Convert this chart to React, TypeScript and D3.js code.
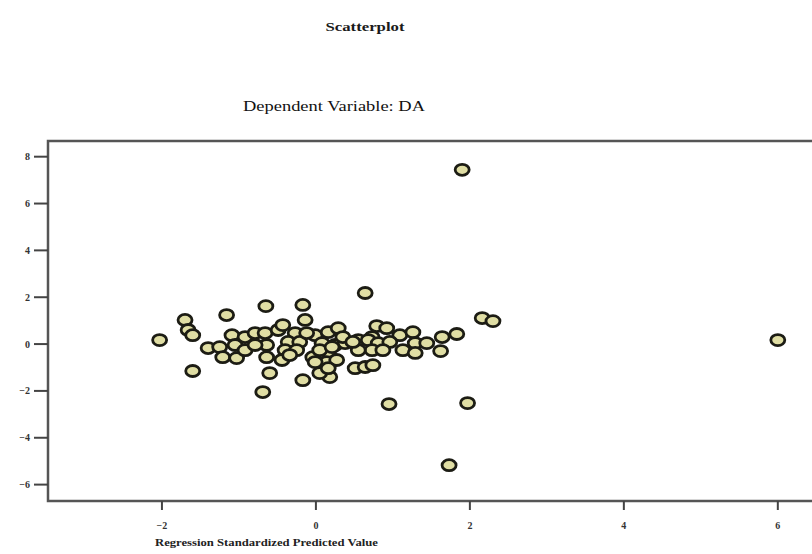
import React, { useEffect, useRef } from "react";
import * as d3 from "d3";

// regression standardized predicted value (x) vs standardized residual (y)
const predicted: number[] = [
  1.9, 6.0, 1.73, 0.95, 1.97, -0.69, -0.17, 0.18, 0.05, -0.6,
  -2.03, -1.7, -1.66, -1.6, -1.16, -1.6, -1.4, -1.25, -1.21, -1.09,
  -1.05, -1.03, -0.92, -0.92, -0.79, -0.65, -0.17, -0.14, 0.64, -0.66,
  -0.49, -0.43, -0.27, -0.36, -0.21, -0.01, 0.16, 0.29, 0.08, 0.25,
  0.38, 0.55, 0.73, -0.64, -0.79, -0.4, -0.25, -0.04, -0.44, -0.34,
  0.16, 0.14, -0.01, 0.27, 0.16, 0.51, 0.64, 0.79, 0.92, 1.09,
  1.26, 1.29, 1.44, 1.13, 1.29, 1.64, 1.83, 1.62, 2.16, 2.3,
  0.68, 0.81, 0.96, 0.73, 0.87, 0.74, 0.55, 0.35, 0.48, -0.64,
  -0.12, 0.05, 0.21,
];
const residual: number[] = [
  7.44, 0.17, -5.17, -2.56, -2.52, -2.05, -1.54, -1.41, -1.24, -1.24,
  0.17, 1.03, 0.6, 0.38, 1.24, -1.15, -0.17, -0.13, -0.56, 0.38,
  -0.04, -0.6, 0.3, -0.26, 0.47, 1.62, 1.67, 1.03, 2.18, 0.47,
  0.6, 0.81, 0.47, 0.09, 0.09, 0.38, 0.51, 0.68, 0.04, -0.04,
  0.04, 0.17, 0.3, -0.04, -0.04, -0.26, -0.26, -0.56, -0.68, -0.47,
  -0.34, -0.77, -0.77, -0.68, -1.03, -1.03, -0.98, 0.77, 0.68, 0.38,
  0.51, 0.04, 0.04, -0.26, -0.38, 0.3, 0.43, -0.3, 1.11, 0.98,
  0.17, 0.04, 0.09, -0.26, -0.26, -0.9, -0.26, 0.3, 0.09, -0.56,
  0.47, -0.26, -0.13,
];
const xTicks = [-2, 0, 2, 4, 6];
const yTicks = [-6, -4, -2, 0, 2, 4, 6, 8];

const title = "Scatterplot";
const subtitle = "Dependent Variable: DA";
const xLabel = "Regression Standardized Predicted Value";

export default function App() {
  const svgRef = useRef<SVGSVGElement | null>(null);

  useEffect(() => {
    if (!svgRef.current) return;
    const W = 812;
    const H = 554;
    const svg = d3.select(svgRef.current);
    svg.selectAll("*").remove();
    svg.attr("width", W).attr("height", H);

    const x = d3.scaleLinear().domain([-3.48, 6.47]).range([48, 814]);
    const y = d3.scaleLinear().domain([-6.7, 8.67]).range([501, 141]);

    const font = "'Liberation Serif', 'Times New Roman', serif";

    svg
      .append("text")
      .attr("x", 365)
      .attr("y", 31)
      .attr("text-anchor", "middle")
      .attr("font-family", font)
      .attr("font-size", 13)
      .attr("font-weight", "bold")
      .attr("textLength", 79)
      .attr("lengthAdjust", "spacingAndGlyphs")
      .attr("fill", "#1a1a1a")
      .text(title);

    svg
      .append("text")
      .attr("x", 334)
      .attr("y", 111)
      .attr("text-anchor", "middle")
      .attr("font-family", font)
      .attr("font-size", 15)
      .attr("textLength", 182)
      .attr("lengthAdjust", "spacingAndGlyphs")
      .attr("fill", "#111")
      .text(subtitle);

    // plot frame
    svg
      .append("rect")
      .attr("x", x.range()[0])
      .attr("y", y.range()[1])
      .attr("width", x.range()[1] - x.range()[0])
      .attr("height", y.range()[0] - y.range()[1])
      .attr("fill", "none")
      .attr("stroke", "#555")
      .attr("stroke-width", 2.5);

    // y ticks
    const yg = svg.append("g");
    yg.selectAll("line")
      .data(yTicks)
      .join("line")
      .attr("x1", 34)
      .attr("x2", 48)
      .attr("y1", (d) => y(d))
      .attr("y2", (d) => y(d))
      .attr("stroke", "#444")
      .attr("stroke-width", 2);
    yg.selectAll("text")
      .data(yTicks)
      .join("text")
      .attr("x", 30)
      .attr("y", (d) => y(d) + 3.5)
      .attr("text-anchor", "end")
      .attr("font-family", font)
      .attr("font-size", 10)
      .attr("font-weight", "bold")
      .attr("fill", "#333")
      .text((d) => d3.format("d")(d));

    // x ticks
    const xg = svg.append("g");
    xg.selectAll("line")
      .data(xTicks)
      .join("line")
      .attr("x1", (d) => x(d))
      .attr("x2", (d) => x(d))
      .attr("y1", 501)
      .attr("y2", 510)
      .attr("stroke", "#444")
      .attr("stroke-width", 2);
    xg.selectAll("text")
      .data(xTicks)
      .join("text")
      .attr("x", (d) => x(d))
      .attr("y", 529)
      .attr("text-anchor", "middle")
      .attr("font-family", font)
      .attr("font-size", 10)
      .attr("font-weight", "bold")
      .attr("fill", "#333")
      .text((d) => d3.format("d")(d));

    svg
      .append("text")
      .attr("x", 155)
      .attr("y", 546)
      .attr("font-family", font)
      .attr("font-size", 11)
      .attr("font-weight", "bold")
      .attr("textLength", 223)
      .attr("lengthAdjust", "spacingAndGlyphs")
      .attr("fill", "#222")
      .text(xLabel);

    // points
    const pts = predicted.map((p, i) => ({ px: p, py: residual[i] }));
    svg
      .append("g")
      .selectAll("ellipse")
      .data(pts)
      .join("ellipse")
      .attr("cx", (d) => x(d.px))
      .attr("cy", (d) => y(d.py))
      .attr("rx", 7)
      .attr("ry", 5.5)
      .attr("fill", "#e0dea4")
      .attr("stroke", "#1c1c14")
      .attr("stroke-width", 2.8);
  }, []);

  return (
    <div style={{ position: "fixed", left: 0, top: 0, width: 812, height: 554, background: "#fff" }}>
      <svg ref={svgRef} className="block" />
    </div>
  );
}
